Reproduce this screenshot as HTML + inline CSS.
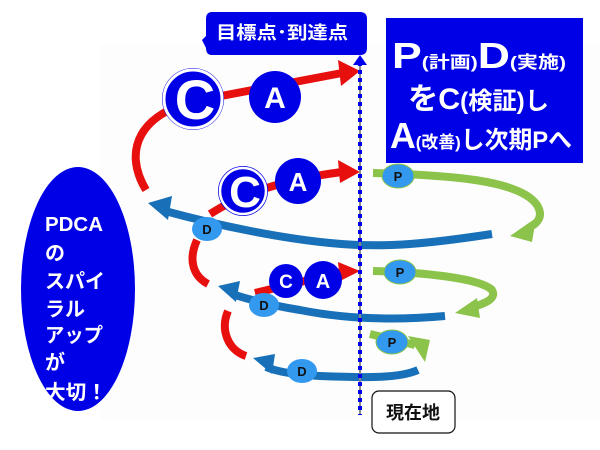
<!DOCTYPE html>
<html><head><meta charset="utf-8"><style>
body{margin:0;background:#fff;}
svg{display:block;font-family:"Liberation Sans","Noto Sans CJK JP",sans-serif;font-weight:bold;}
</style></head><body>
<svg width="600" height="450" viewBox="0 0 600 450">
<rect x="100" y="45" width="500" height="375" fill="#fdfdfd"/>
<!-- red -->
<g fill="none" stroke="#e8100f" stroke-width="8">
<path d="M146,190 C122,150 140,112 200,100 L342,73"/>
<path d="M210,214 C240,195 280,180 342,172"/>
<path d="M197,240 C188,260 193,276 208,284"/>
<path d="M255,293 L342,272"/>
<path d="M228,311 C220,330 228,350 246,356"/>
</g>
<g fill="#e8100f">
<polygon points="338,60 360,71 341,86"/>
<polygon points="338,160 360,172 340,183"/>
<polygon points="338,262 360,271 340,281"/>
</g>
<!-- blue -->
<g fill="none" stroke="#1870b8" stroke-width="8">
<path d="M492,234 C420,245 380,248 330,243 C280,238 220,226 165,211"/>
<path d="M445,316 C400,320 350,320 300,310 C270,305 250,300 232,294"/>
<path d="M418,370 C400,378 370,378 320,376 C300,375 280,373 266,367"/>
</g>
<g fill="#1870b8">
<polygon points="148,203 172,196 168,220"/>
<polygon points="218,286 240,281 236,302"/>
<polygon points="253,358 275,354 272,374"/>
</g>
<!-- green -->
<g fill="none" stroke="#8cc34a" stroke-width="8">
<path d="M373,173 C450,175 520,180 537,205 C545,218 535,225 528,228"/>
<path d="M373,271 C420,272 480,278 492,290 C498,300 480,305 470,308"/>
<path d="M370,334 L415,345"/>
</g>
<g fill="#8cc34a">
<polygon points="510,236 536,218 532,242"/>
<polygon points="455,313 477,298 480,318"/>
<polygon points="408,336 430,340 425,362"/>
</g>
<!-- dotted line -->
<line x1="360" y1="62" x2="360" y2="415" stroke="#888" stroke-width="2"/>
<line x1="360" y1="62" x2="360" y2="415" stroke="#0000ee" stroke-width="4" stroke-dasharray="4,4"/>
<polygon points="360,55 353,65 367,65" fill="#0000ee"/>
<!-- D/P circles -->
<g fill="#3399ee">
<ellipse cx="207" cy="229" rx="15" ry="12"/>
<ellipse cx="264" cy="305" rx="15" ry="12"/>
<ellipse cx="302" cy="371" rx="15" ry="12"/>
<ellipse cx="398" cy="176" rx="16" ry="12" stroke="#8cc34a"/>
<ellipse cx="400" cy="272" rx="16" ry="12" stroke="#8cc34a"/>
<ellipse cx="392" cy="342" rx="16" ry="12" stroke="#8cc34a"/>
</g>
<g fill="#111" font-size="13" text-anchor="middle">
<text x="207" y="234">D</text><text x="264" y="310">D</text><text x="302" y="376">D</text>
<text x="398" y="181">P</text><text x="400" y="277">P</text><text x="392" y="347">P</text>
</g>
<!-- C/A -->
<g fill="#0000e6">
<circle cx="193" cy="99" r="31"/><circle cx="275" cy="97" r="26"/>
<circle cx="243" cy="191" r="25"/><circle cx="298" cy="181" r="23"/>
<circle cx="286" cy="281" r="17"/><circle cx="323" cy="280" r="19"/>
</g>
<g fill="#fff" text-anchor="middle">
<circle cx="193" cy="99" r="29" fill="none" stroke="#fff" stroke-width="3"/>
<text x="195" y="119" font-size="56">C</text>
<text x="275" y="108" font-size="30">A</text>
<circle cx="243" cy="191" r="23" fill="none" stroke="#fff" stroke-width="2.5"/>
<text x="245" y="207" font-size="44">C</text>
<text x="298" y="191" font-size="26">A</text>
<text x="286" y="288" font-size="19">C</text>
<text x="323" y="288" font-size="20">A</text>
</g>
<!-- label box -->
<path d="M212,12 H360 Q367,12 367,19 V48 Q367,55 360,55 H212 Q206,55 206,48 L202,40 L206,36 V19 Q206,12 212,12 Z" fill="#0000e6"/>
<text x="216" y="39" font-size="18" fill="#fff" textLength="132" lengthAdjust="spacingAndGlyphs">目標点･到達点</text>
<!-- panel -->
<rect x="386" y="18" width="197" height="145" fill="#0000e6"/>
<g fill="#fff">
<text x="392" y="68" font-size="36" textLength="174" lengthAdjust="spacingAndGlyphs">P<tspan font-size="17">(計画)</tspan>D<tspan font-size="17">(実施)</tspan></text>
<text x="408" y="109" font-size="30" textLength="141" lengthAdjust="spacingAndGlyphs">をC<tspan font-size="24">(検証)し</tspan></text>
<text x="390" y="148" font-size="36" textLength="182" lengthAdjust="spacingAndGlyphs">A<tspan font-size="17">(改善)</tspan><tspan font-size="24">し次期Pへ</tspan></text>
</g>
<!-- ellipse -->
<ellipse cx="78" cy="289" rx="57" ry="122" fill="#0000e6"/>
<g fill="#fff" font-size="20">
<text x="45" y="231" textLength="58" lengthAdjust="spacingAndGlyphs">PDCA</text>
<text x="45" y="260">の</text>
<text x="45" y="288" textLength="60" lengthAdjust="spacingAndGlyphs">スパイ</text>
<text x="45" y="316" textLength="40" lengthAdjust="spacingAndGlyphs">ラル</text>
<text x="45" y="342" textLength="58" lengthAdjust="spacingAndGlyphs">アップ</text>
<text x="45" y="369">が</text>
<text x="45" y="399" textLength="62" lengthAdjust="spacingAndGlyphs">大切！</text>
</g>
<!-- current -->
<rect x="372" y="391" width="83" height="42" rx="7" fill="#fff" stroke="#111" stroke-width="1.2"/>
<text x="413" y="419" font-size="18" fill="#111" text-anchor="middle">現在地</text>
</svg>
</body></html>
